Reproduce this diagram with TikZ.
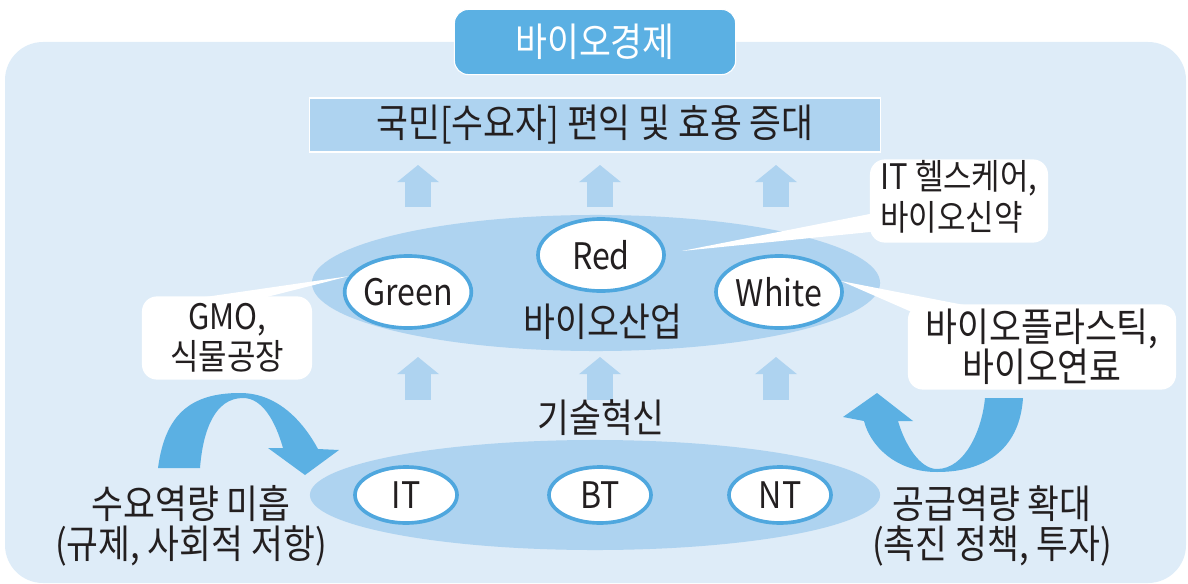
\documentclass[tikz,border=0pt]{standalone}
\usepackage{xcolor}
\usepackage{fontspec}
\setmainfont{Noto Sans CJK KR}[FakeStretch=0.88]
\usetikzlibrary{arrows.meta,calc,shapes.geometric}

\definecolor{bgblue}{RGB}{222,236,248}
\definecolor{midblue}{RGB}{174,211,240}
\definecolor{deepblue}{RGB}{91,176,227}
\definecolor{ringblue}{RGB}{79,167,222}
\definecolor{ink}{RGB}{35,31,32}

\tikzset{
  txt/.style={font=\fontsize{28}{28.5}\selectfont, text=ink, inner sep=0pt, align=center},
  small/.style={font=\fontsize{25}{28.5}\selectfont},
  title/.style={txt, text=white, fill=deepblue, draw=white, line width=0.8pt, rounded corners=0.35cm, minimum width=7.03cm, minimum height=1.63cm},
  goal/.style={txt, fill=midblue, draw=white, line width=0.8pt, minimum width=14.25cm, minimum height=1.35cm},
  field/.style={ellipse, fill=midblue, inner sep=0pt},
  sector/.style={txt, font=\fontsize{26}{28.5}\selectfont, ellipse, fill=white, draw=ringblue, line width=2.6pt},
  callout/.style={txt, fill=white, rounded corners=0.375cm},
  uparrow/.style={midblue, line width=0.63cm, -{Triangle[length=0.43cm,width=1.03cm]}},
  curvearrow/.style={fill=deepblue},
}

\begin{document}
\begin{tikzpicture}[x=0.025cm, y=-0.025cm]
  \useasboundingbox (0,0) rectangle (1188,584);
  \fill[bgblue, rounded corners=0.95cm] (5,42) rectangle (1186,583);

  \node[title] (eco) at (595,42) {바이오경제};
  \node[goal] (benefit) at (595,125) {국민[수요자] 편익 및 효용 증대};

  \node[field, minimum width=14.2cm, minimum height=3.4cm] (bioind) at (596,283) {};
  \node[field, minimum width=14.25cm, minimum height=2.75cm] (tech) at (595,495) {};

  \foreach \ax in {418,600,776} {
    \draw[uparrow] (\ax,207) -- (\ax,165);
    \draw[uparrow] (\ax,400) -- (\ax,357);
  }

  \node[sector, minimum width=3.15cm, minimum height=1.8cm] (red) at (601,255) {Red};
  \node[sector, minimum width=3.15cm, minimum height=1.8cm] (green) at (408,292) {Green};
  \node[sector, minimum width=3.15cm, minimum height=1.8cm] (white) at (779,292) {White};
  \node[txt] (biolabel) at (603,322) {바이오산업};

  \node[sector, minimum width=2.55cm, minimum height=1.4cm] (it) at (406,495) {IT};
  \node[sector, minimum width=2.55cm, minimum height=1.4cm] (bt) at (600,495) {BT};
  \node[sector, minimum width=2.55cm, minimum height=1.4cm] (nt) at (780,495) {NT};
  \node[txt] (innov) at (601,418) {기술혁신};

  \fill[white] ($(red.east)+(16,-4)$) -- (890,210) -- (890,230) -- cycle;
  \fill[white] (green.165) -- (150,305) -- (255,300) -- cycle;
  \fill[white] (white.10) -- (930,320) -- (1000,312) -- cycle;

  \node[callout, small, minimum width=4.45cm, minimum height=2.08cm] (healthbox) at (959,201) {\begin{tabular}{@{}l@{}}IT 헬스케어,\\바이오신약\end{tabular}};
  \node[callout, small, minimum width=4.25cm, minimum height=2.08cm] (gmobox) at (227,338) {GMO,\\식물공장};
  \node[callout, minimum width=6.7cm, minimum height=2.13cm] (plasticbox) at (1042,347) {바이오플라스틱,\\바이오연료};

  \fill[curvearrow] (158,468) .. controls (165,415) and (190,393) .. (240,393)
    .. controls (280,393) and (305,425) .. (318,449)
    -- (339,450) -- (305,475) -- (268,448) -- (283,448)
    .. controls (275,420) and (262,398) .. (243,398)
    .. controls (215,398) and (203,430) .. (200,468) -- cycle;
  \fill[curvearrow] (1023,398) .. controls (1020,445) and (990,472) .. (937,472)
    .. controls (895,472) and (870,445) .. (864,421)
    -- (843,417) -- (877,393) -- (913,421) -- (898,421)
    .. controls (905,445) and (920,469) .. (937,469)
    .. controls (965,469) and (982,430) .. (985,398) -- cycle;

  \node[txt] (demand) at (191,526) {수요역량 미흡\\(규제, 사회적 저항)};
  \node[txt] (supply) at (992,526) {공급역량 확대\\(촉진 정책, 투자)};
\end{tikzpicture}
\end{document}
